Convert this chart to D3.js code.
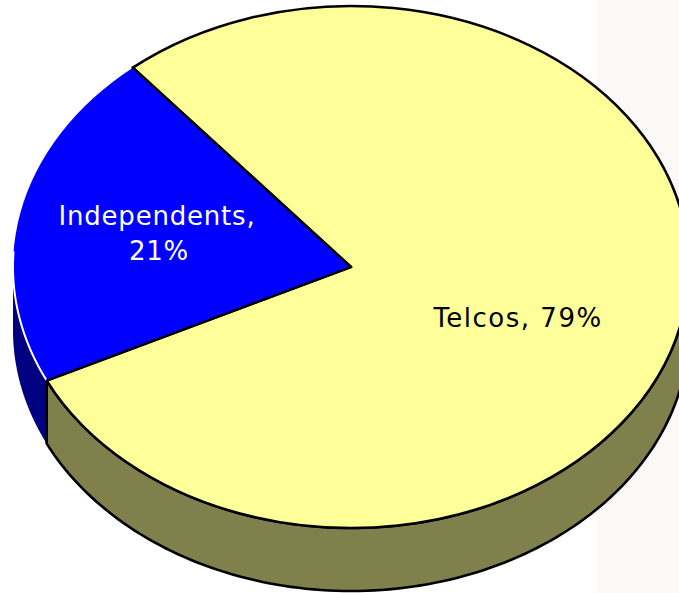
<!DOCTYPE html>
<html>
<head>
<meta charset="utf-8">
<script src="https://cdn.jsdelivr.net/npm/d3@7"></script>
<style>
  html, body { margin: 0; padding: 0; background: #ffffff; }
  svg { display: block; }
  text { font-family: "DejaVu Sans", Verdana, sans-serif; }
</style>
</head>
<body>
<svg id="chart" width="679" height="593"></svg>
<script>
// Market share, by provider type
const categories = ["Telcos", "Independents"];
const shares = [79, 21];
const labels = [["Telcos, 79%"], ["Independents,", "21%"]];

const topColors = ["#ffff99", "#0000ff"];
const sideColors = ["#80804d", "#000080"];
const labelColors = ["#000000", "#ffffff"];

const W = 679, H = 593;
const cx = 351, cy = 267;      // centre of the top face
const rx = 338, ry = 261;      // ellipse radii of the tilted disc
const depth = 63;              // thickness of the disc
const startDeg = -40.2;        // first slice starts here, clockwise from 12 o'clock

const svg = d3.select("#chart");

// faint backdrop panel on the right
svg.append("rect").attr("x", 597).attr("y", 0).attr("width", W - 597).attr("height", H)
  .attr("fill", "#fbf8f8");

const pie = d3.pie().sort(null).value(d => d)
  .startAngle(startDeg * Math.PI / 180)
  .endAngle(startDeg * Math.PI / 180 + 2 * Math.PI);
const arcs = pie(shares);

// point on the ellipse for a pie angle (0 = top, clockwise)
const px = a => cx + rx * Math.sin(a);
const py = (a, dz = 0) => cy - ry * Math.cos(a) + dz;

const line = d3.line();
const sample = (a0, a1, n = 120) => d3.range(n + 1).map(i => a0 + (a1 - a0) * i / n);

// --- side walls: only the front half (angles PI/2 .. 3PI/2) is visible
const front0 = Math.PI / 2, front1 = 3 * Math.PI / 2;
arcs.forEach((d, i) => {
  const a0 = d.startAngle, a1 = d.endAngle;
  const pieces = [];
  for (const shift of [-2 * Math.PI, 0, 2 * Math.PI]) {
    const s = Math.max(a0 + shift, front0), e = Math.min(a1 + shift, front1);
    if (e > s) pieces.push([s, e]);
  }
  pieces.forEach(([s, e]) => {
    const topPts = sample(s, e).map(a => [px(a), py(a)]);
    const botPts = sample(e, s).map(a => [px(a), py(a, depth)]);
    svg.append("path")
      .attr("d", line(topPts.concat(botPts)) + "Z")
      .attr("fill", sideColors[i])
      .attr("stroke", i === 0 ? "#000" : "none")
      .attr("stroke-width", 2.6)
      .attr("stroke-linejoin", "round");
  });
});

// vertical edge where the two side walls meet
const seam = arcs[0].endAngle;
svg.append("line")
  .attr("x1", px(seam)).attr("y1", py(seam))
  .attr("x2", px(seam)).attr("y2", py(seam, depth))
  .attr("stroke", "#000").attr("stroke-width", 2);

// --- top faces, drawn as circular arcs squashed into the ellipse
const arc = d3.arc().innerRadius(0).outerRadius(rx);
const topG = svg.append("g")
  .attr("transform", `translate(${cx},${cy}) scale(1,${ry / rx})`);

topG.selectAll("path.top")
  .data(arcs)
  .join("path")
  .attr("class", "top")
  .attr("d", arc)
  .attr("fill", (d, i) => topColors[i])
  .attr("stroke", (d, i) => i === 0 ? "#000" : "none")
  .attr("stroke-width", 2.6)
  .attr("stroke-linejoin", "round")
  .attr("vector-effect", "non-scaling-stroke");

// white rim where the blue face meets its own wall
const ind = arcs[1];
const rimPts = sample(ind.startAngle, front1 + 0.06).map(a => [px(a), py(a)]);
svg.append("path")
  .attr("d", line(rimPts))
  .attr("fill", "none")
  .attr("stroke", "#ffffff")
  .attr("stroke-width", 2);

// radial edges between the slices
arcs.forEach(d => {
  svg.append("line")
    .attr("x1", cx).attr("y1", cy)
    .attr("x2", px(d.startAngle)).attr("y2", py(d.startAngle))
    .attr("stroke", "#000").attr("stroke-width", 2.4)
    .attr("stroke-linecap", "round");
});

// --- data labels
const labelPos = [[518, 327], [157, 225]];
const labelSpacing = [1.5, 0.8];
labels.forEach((lines, i) => {
  const t = svg.append("text")
    .attr("x", labelPos[i][0]).attr("y", labelPos[i][1])
    .attr("text-anchor", "middle")
    .attr("font-size", 26)
    .attr("letter-spacing", labelSpacing[i])
    .attr("fill", labelColors[i]);
  lines.forEach((s, j) => {
    t.append("tspan")
      .attr("x", labelPos[i][0] + (j === 1 ? 2 : 0))
      .attr("dy", j === 0 ? 0 : 35)
      .text(s);
  });
});
</script>
</body>
</html>
